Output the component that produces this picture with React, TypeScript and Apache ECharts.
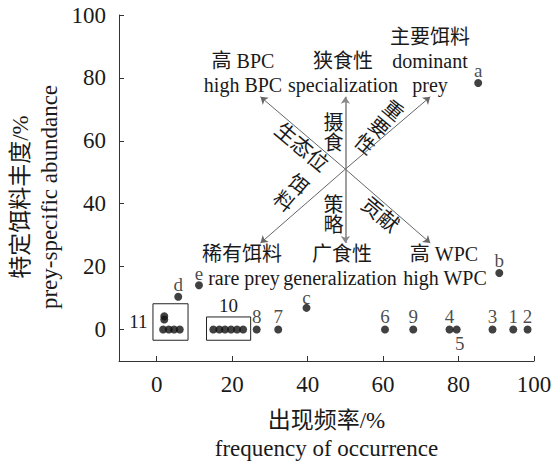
import React, { useEffect, useRef } from "react";
import * as echarts from "echarts";

const FONT = "Liberation Serif, Noto Sans CJK SC, serif";
const INK = "#1a1a1a";

// axis ticks
const tickValues = [0, 20, 40, 60, 80, 100];

// labelled prey (letters)
const letterNames = ["a", "b", "c", "d", "e"];
const letterX = [85.2, 90.8, 39.7, 5.7, 11.2];
const letterY = [78.4, 18.0, 6.9, 10.4, 14.1];
const letterLabelLow = ["c"];

// numbered prey on the zero line
const numberNames = ["1", "2", "3", "4", "5", "6", "7", "8", "9"];
const numberX = [94.5, 98.3, 89.0, 77.6, 79.5, 60.5, 32.2, 26.5, 68.0];
const numberY = [0, 0, 0, 0, 0, 0, 0, 0, 0];
const numberBelow = ["5"];

// grouped prey (boxes 11 and 10)
const group11X = [1.7, 3.2, 4.6, 6.1, 2.0, 2.0];
const group11Y = [0, 0, 0, 0, 3.2, 4.2];
const group10X = [15.0, 16.6, 18.1, 19.7, 21.3, 22.9];
const group10Y = [0, 0, 0, 0, 0, 0];
const groupBoxes = [
  { name: "11", x: [-1.0, 8.3], y: [-3.4, 8.2], pos: "left" },
  { name: "10", x: [13.2, 24.9], y: [-3.4, 4.0], pos: "top" },
];

// interpretation arrows
const arrowCenter = [50, 51];
const arrowEnds = [
  [27.5, 74],
  [50, 74],
  [72.5, 74],
  [27.5, 27.5],
  [50, 27.5],
  [72.5, 27.5],
];

const ANG = 0.7;
const annotations = [
  { text: "高 BPC", x: 243, y: 61, rot: 0, lh: 20, fs: 20 },
  { text: "high BPC", x: 243, y: 85, rot: 0, lh: 20, fs: 20 },
  { text: "狭食性", x: 343, y: 61, rot: 0, lh: 20, fs: 20 },
  { text: "specialization", x: 343, y: 85, rot: 0, lh: 20, fs: 20 },
  { text: "主要饵料", x: 430, y: 37, rot: 0, lh: 20, fs: 20 },
  { text: "dominant", x: 430, y: 61, rot: 0, lh: 20, fs: 20 },
  { text: "prey", x: 430, y: 85, rot: 0, lh: 20, fs: 20 },
  { text: "稀有饵料", x: 242, y: 254, rot: 0, lh: 18, fs: 20 },
  { text: "rare prey", x: 244, y: 278, rot: 0, lh: 18, fs: 20 },
  { text: "广食性", x: 342, y: 254, rot: 0, lh: 18, fs: 20 },
  { text: "generalization", x: 340, y: 278, rot: 0, lh: 18, fs: 20 },
  { text: "高 WPC", x: 444, y: 254, rot: 0, lh: 18, fs: 20 },
  { text: "high WPC", x: 445, y: 278, rot: 0, lh: 18, fs: 20 },
  { text: "生态位", x: 301.5, y: 147.5, rot: -ANG, lh: 21, fs: 21 },
  { text: "重\n要\n性", x: 379, y: 127.5, rot: -ANG, lh: 22, fs: 20 },
  { text: "饵\n料", x: 291, y: 193, rot: -ANG, lh: 22, fs: 20 },
  { text: "贡献", x: 380, y: 215, rot: -ANG, lh: 21, fs: 21 },
  { text: "摄\n食", x: 333.5, y: 133, rot: 0, lh: 20, fs: 20 },
  { text: "策\n略", x: 333.5, y: 215, rot: 0, lh: 20, fs: 20 },
  { text: "特定饵料丰度/%\nprey-specific abundance", x: 35, y: 197, rot: Math.PI / 2, lh: 29, fs: 23 },
];

export default function App() {
  const ref = useRef<HTMLDivElement>(null);

  useEffect(() => {
    document.body.style.margin = "0";
    if (!ref.current) return;
    const chart = echarts.init(ref.current, undefined, { renderer: "svg" });

    const dotStyle = { color: "#111" };

    const option: any = {
      animation: false,
      textStyle: { fontFamily: FONT, color: INK },
      grid: { left: 119, right: 19, top: 15, bottom: 104, containLabel: false, outerBoundsMode: "none" },
      xAxis: {
        type: "value",
        min: -10,
        max: 100,
        name: "出现频率/%\nfrequency of occurrence",
        nameLocation: "middle",
        nameGap: 45,
        nameTextStyle: { fontFamily: FONT, fontSize: 23, lineHeight: 28, color: INK },
        axisLine: { onZero: false, lineStyle: { color: "#333", width: 1 } },
        axisTick: { inside: true, length: 5, customValues: tickValues, lineStyle: { color: "#333" } },
        axisLabel: { customValues: tickValues, fontFamily: FONT, fontSize: 23, color: INK, margin: 12 },
        splitLine: { show: false },
      },
      yAxis: {
        type: "value",
        min: -10,
        max: 100,
        axisLine: { show: true, onZero: false, lineStyle: { color: "#333", width: 1 } },
        axisTick: { show: true, inside: true, length: 5, customValues: tickValues, lineStyle: { color: "#333" } },
        axisLabel: { customValues: tickValues, fontFamily: FONT, fontSize: 23, color: INK, margin: 13 },
        splitLine: { show: false },
      },
      graphic: annotations.map((a) => ({
        type: "text",
        x: a.x,
        y: a.y,
        rotation: a.rot,
        silent: true,
        style: {
          text: a.text,
          fontFamily: FONT,
          fontSize: a.fs,
          lineHeight: a.lh,
          fill: INK,
          align: "center",
          verticalAlign: "middle",
        },
      })),
      series: [
        {
          type: "scatter",
          name: "letters",
          symbolSize: 8,
          itemStyle: dotStyle,
          data: letterX.map((x, i) => ({
            name: letterNames[i],
            value: [x, letterY[i]],
            label: letterLabelLow.includes(letterNames[i]) ? { distance: -1 } : undefined,
          })),
          label: {
            show: true,
            position: "top",
            distance: 1,
            formatter: "{b}",
            fontFamily: FONT,
            fontSize: 19,
            lineHeight: 14,
            color: INK,
          },
        },
        {
          type: "scatter",
          name: "numbers",
          symbolSize: 8,
          itemStyle: dotStyle,
          data: numberX.map((x, i) => {
            const below = numberBelow.includes(numberNames[i]);
            return {
              name: numberNames[i],
              value: [x, numberY[i]],
              label: below ? { position: "bottom", offset: [3, 0] } : undefined,
            };
          }),
          label: {
            show: true,
            position: "top",
            distance: 0,
            formatter: "{b}",
            fontFamily: FONT,
            fontSize: 19,
            lineHeight: 19,
            color: INK,
          },
        },
        {
          type: "scatter",
          name: "groups",
          symbolSize: 8,
          itemStyle: dotStyle,
          data: [
            ...group11X.map((x, i) => [x, group11Y[i]]),
            ...group10X.map((x, i) => [x, group10Y[i]]),
          ],
          markArea: {
            silent: true,
            itemStyle: { color: "rgba(0,0,0,0)", borderColor: "#222", borderWidth: 1 },
            label: { show: true, fontFamily: FONT, fontSize: 19, color: INK, distance: 4 },
            data: groupBoxes.map((b) => [
              { name: b.name, xAxis: b.x[0], yAxis: b.y[0], label: { position: b.pos, distance: b.pos === "top" ? 1 : 5 } },
              { xAxis: b.x[1], yAxis: b.y[1] },
            ]),
          },
          markLine: {
            silent: true,
            symbol: ["none", "arrow"],
            symbolSize: 7,
            label: { show: false },
            lineStyle: { color: "#666", width: 1, type: "solid" },
            data: arrowEnds.map((e) => [
              { coord: arrowCenter },
              { coord: e, lineStyle: e[0] === arrowCenter[0] ? { color: "#888", width: 1.6 } : undefined },
            ]),
          },
        },
      ],
    };

    chart.setOption(option);
    return () => chart.dispose();
  }, []);

  return <div ref={ref} style={{ width: 553, height: 465 }} />;
}
